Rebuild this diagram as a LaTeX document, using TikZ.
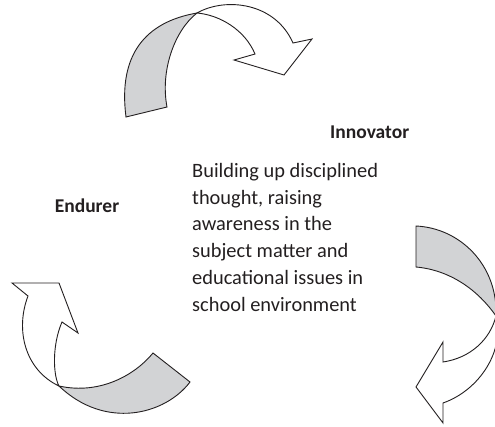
\documentclass[tikz,border=0pt]{standalone}
\usepackage{fontspec}
\setmainfont{Carlito}
\definecolor{bandgray}{RGB}{210,211,213}
\definecolor{inkline}{RGB}{35,31,32}
\definecolor{inktext}{RGB}{35,31,32}
\begin{document}
\begin{tikzpicture}[x=1pt,y=-1pt,
  band/.style={draw=inkline,line width=0.9pt,line join=miter,fill=bandgray},
  sheet/.style={draw=inkline,line width=0.9pt,line join=miter,fill=white},
  rolelabel/.style={font=\fontsize{19.5}{23}\selectfont\bfseries,text=inktext,inner sep=0pt},
  bodytext/.style={font=\fontsize{20.4}{26.8}\selectfont,text=inktext,inner sep=0pt,align=left}]
\useasboundingbox (0,0) rectangle (495,426);
\clip (0,0) rectangle (495,426);

% top arrow
\coordinate (f1) at (197,13);
\path[band] (126,117) .. controls (118,55) and (145,22) .. (f1)
  .. controls (175,30) and (160,70) .. (167,107) -- cycle;
\path[sheet] (f1) .. controls (225,-3) and (275,2) .. (293,43)
  -- (312,39) -- (284,75) -- (234,60) -- (255,54)
  .. controls (245,30) and (220,15) .. (f1) -- cycle;

% right arrow
\coordinate (f2) at (496,316);
\path[band] (416,226) .. controls (460,228) and (498,265) .. (f2)
  .. controls (478,290) and (450,270) .. (416,267) -- cycle;
\path[sheet] (f2) .. controls (505,350) and (480,390) .. (443,403)
  -- (443,423) -- (416,387) -- (443,342) -- (443,362)
  .. controls (470,358) and (490,340) .. (f2) -- cycle;

% left arrow
\coordinate (f3) at (59,386);
\path[band] (f3) .. controls (100,395) and (135,375) .. (153,353)
  -- (190,382) .. controls (165,415) and (105,430) .. (f3) -- cycle;
\path[sheet] (f3) .. controls (25,370) and (15,330) .. (28,296)
  -- (12,283) -- (59,283) -- (78,333) -- (62,322)
  .. controls (52,345) and (53,375) .. (f3) -- cycle;

\node[rolelabel,anchor=west] (innov) at (330,132) {Innovator};
\node[rolelabel] (endur) at (87,206) {Endurer};
\node[bodytext,anchor=north west] (desc) at (192,163) {Building up disciplined\\thought, raising\\awareness in the\\subject matter and\\educational issues in\\school environment};
\end{tikzpicture}
\end{document}
